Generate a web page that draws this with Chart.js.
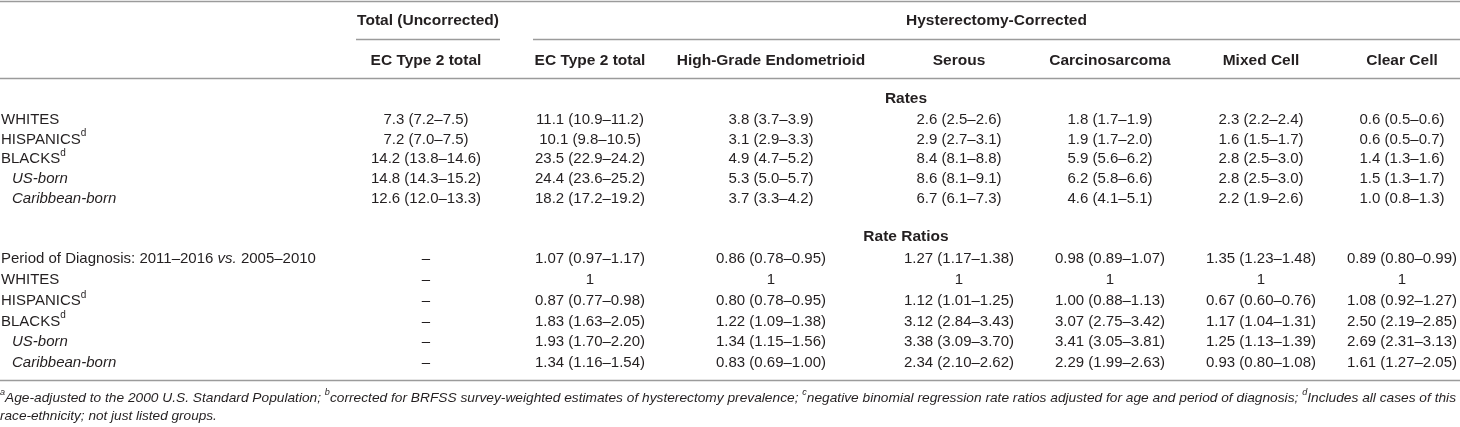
<!DOCTYPE html>
<html>
<head>
<meta charset="utf-8">
<script src="https://cdn.jsdelivr.net/npm/chart.js@4.4.1/dist/chart.umd.min.js"></script>
<style>
  html, body { margin: 0; padding: 0; background: #fff; }
  #wrap { width: 1460px; height: 427px; }
</style>
</head>
<body>
<div id="wrap"><canvas id="tableChart" width="1460" height="427"></canvas></div>
<script>
//DATA

// "^d" = superscript, "*vs.*" = italic
var groupLabels = ["Total (Uncorrected)", "Hysterectomy-Corrected"];
var columnLabels = ["EC Type 2 total", "EC Type 2 total", "High-Grade Endometrioid", "Serous", "Carcinosarcoma", "Mixed Cell", "Clear Cell"];
var sectionLabels = ["Rates", "Rate Ratios"];

var rateRowLabels = ["WHITES", "HISPANICS^d", "BLACKS^d", "US-born", "Caribbean-born"];
var ratioRowLabels = ["Period of Diagnosis: 2011–2016 *vs.* 2005–2010", "WHITES", "HISPANICS^d", "BLACKS^d", "US-born", "Caribbean-born"];
var subRows = ["US-born", "Caribbean-born"];

var rateWhites    = ["7.3 (7.2–7.5)", "11.1 (10.9–11.2)", "3.8 (3.7–3.9)", "2.6 (2.5–2.6)", "1.8 (1.7–1.9)", "2.3 (2.2–2.4)", "0.6 (0.5–0.6)"];
var rateHispanics = ["7.2 (7.0–7.5)", "10.1 (9.8–10.5)", "3.1 (2.9–3.3)", "2.9 (2.7–3.1)", "1.9 (1.7–2.0)", "1.6 (1.5–1.7)", "0.6 (0.5–0.7)"];
var rateBlacks    = ["14.2 (13.8–14.6)", "23.5 (22.9–24.2)", "4.9 (4.7–5.2)", "8.4 (8.1–8.8)", "5.9 (5.6–6.2)", "2.8 (2.5–3.0)", "1.4 (1.3–1.6)"];
var rateUsBorn    = ["14.8 (14.3–15.2)", "24.4 (23.6–25.2)", "5.3 (5.0–5.7)", "8.6 (8.1–9.1)", "6.2 (5.8–6.6)", "2.8 (2.5–3.0)", "1.5 (1.3–1.7)"];
var rateCarib     = ["12.6 (12.0–13.3)", "18.2 (17.2–19.2)", "3.7 (3.3–4.2)", "6.7 (6.1–7.3)", "4.6 (4.1–5.1)", "2.2 (1.9–2.6)", "1.0 (0.8–1.3)"];

var rrPeriod      = ["–", "1.07 (0.97–1.17)", "0.86 (0.78–0.95)", "1.27 (1.17–1.38)", "0.98 (0.89–1.07)", "1.35 (1.23–1.48)", "0.89 (0.80–0.99)"];
var rrWhites      = ["–", "1", "1", "1", "1", "1", "1"];
var rrHispanics   = ["–", "0.87 (0.77–0.98)", "0.80 (0.78–0.95)", "1.12 (1.01–1.25)", "1.00 (0.88–1.13)", "0.67 (0.60–0.76)", "1.08 (0.92–1.27)"];
var rrBlacks      = ["–", "1.83 (1.63–2.05)", "1.22 (1.09–1.38)", "3.12 (2.84–3.43)", "3.07 (2.75–3.42)", "1.17 (1.04–1.31)", "2.50 (2.19–2.85)"];
var rrUsBorn      = ["–", "1.93 (1.70–2.20)", "1.34 (1.15–1.56)", "3.38 (3.09–3.70)", "3.41 (3.05–3.81)", "1.25 (1.13–1.39)", "2.69 (2.31–3.13)"];
var rrCarib       = ["–", "1.34 (1.16–1.54)", "0.83 (0.69–1.00)", "2.34 (2.10–2.62)", "2.29 (1.99–2.63)", "0.93 (0.80–1.08)", "1.61 (1.27–2.05)"];

var footnoteLines = [
  "^aAge-adjusted to the 2000 U.S. Standard Population; ^bcorrected for BRFSS survey-weighted estimates of hysterectomy prevalence; ^cnegative binomial regression rate ratios adjusted for age and period of diagnosis; ^dIncludes all cases of this",
  "race-ethnicity; not just listed groups."
];

//LAYOUT (pixels)
var W = 1460, H = 427;
var colCenter = [426, 590, 771, 959, 1110, 1261, 1402];
var groupSpan = [[356, 500], [533, 1460]];
var sectionX = 906;
var sectionY = [99, 237];
var rateTop = 119.5, rateStep = 19.9;
var ratioTop = 259, ratioStep = 20.8;
var header1Y = 21, header2Y = 61;
var ruleTop = 1, ruleGroup = 39, ruleHead = 78, ruleBottom = 380;
var footY = [398, 416];

var textColor = "#231f20";
var ruleColor = "#9b9b9b";
var FONT = "'Liberation Sans', Arial, sans-serif";
var bodySize = 15, headSize = 15.5, footSize = 13.6;

var rateCells = [rateWhites, rateHispanics, rateBlacks, rateUsBorn, rateCarib];
var ratioCells = [rrPeriod, rrWhites, rrHispanics, rrBlacks, rrUsBorn, rrCarib];

// one scatter point per cell; text is painted at the element position
var cellPoints = [];
function addRow(label, cells, y) {
  var sub = subRows.indexOf(label) >= 0;
  cellPoints.push({ x: sub ? 12 : 1, y: y, text: label, kind: "label", italic: sub });
  cells.forEach(function (c, i) {
    cellPoints.push({ x: colCenter[i], y: y, text: c, kind: "cell" });
  });
}
rateRowLabels.forEach(function (lab, r) { addRow(lab, rateCells[r], rateTop + r * rateStep); });
ratioRowLabels.forEach(function (lab, r) { addRow(lab, ratioCells[r], ratioTop + r * ratioStep); });
sectionLabels.forEach(function (s, i) {
  cellPoints.push({ x: sectionX, y: sectionY[i], text: s, kind: "head" });
});
columnLabels.forEach(function (c, i) {
  cellPoints.push({ x: colCenter[i], y: header2Y, text: c, kind: "head" });
});
groupLabels.forEach(function (g, i) {
  cellPoints.push({ x: (groupSpan[i][0] + groupSpan[i][1]) / 2, y: header1Y, text: g, kind: "head" });
});
footnoteLines.forEach(function (f, i) {
  cellPoints.push({ x: 0, y: footY[i], text: f, kind: "foot" });
});

// split "abc ^d *vs.*" into styled pieces
function parseRich(str) {
  var parts = [];
  var re = /\^(.)|\*([^*]+)\*/g, last = 0, m;
  while ((m = re.exec(str)) !== null) {
    if (m.index > last) parts.push({ t: str.slice(last, m.index) });
    if (m[1]) parts.push({ t: m[1], sup: true });
    else parts.push({ t: m[2], italic: true });
    last = re.lastIndex;
  }
  if (last < str.length) parts.push({ t: str.slice(last) });
  return parts;
}

function fontFor(size, bold, italic) {
  return (italic ? "italic " : "") + (bold ? "bold " : "") + size + "px " + FONT;
}

function drawRich(ctx, str, x, y, opt) {
  var parts = parseRich(str);
  var size = opt.size, supSize = Math.round(size * 0.68);
  var total = 0;
  parts.forEach(function (p) {
    ctx.font = fontFor(p.sup ? supSize : size, opt.bold, opt.italic || p.italic);
    p.w = ctx.measureText(p.t).width;
    total += p.w;
  });
  var sx = opt.fitWidth ? opt.fitWidth / total : 1;
  var cx = opt.align === "center" ? x - total * sx / 2 : x;
  ctx.save();
  ctx.translate(cx, y);
  ctx.scale(sx, 1);
  var px = 0;
  parts.forEach(function (p) {
    ctx.font = fontFor(p.sup ? supSize : size, opt.bold, opt.italic || p.italic);
    ctx.fillText(p.t, px, p.sup ? -size * 0.38 : 0);
    px += p.w;
  });
  ctx.restore();
}

var tablePlugin = {
  id: "tablePlugin",
  afterDatasetsDraw: function (chart) {
    var ctx = chart.ctx;
    var xs = chart.scales.x, ys = chart.scales.y;
    ctx.save();

    // rules
    ctx.strokeStyle = ruleColor;
    ctx.lineWidth = 1.4;
    function hline(y, x0, x1) {
      var py = Math.round(ys.getPixelForValue(y)) + 0.5;
      ctx.beginPath();
      ctx.moveTo(xs.getPixelForValue(x0), py);
      ctx.lineTo(xs.getPixelForValue(x1), py);
      ctx.stroke();
    }
    hline(ruleTop, 0, W);
    groupSpan.forEach(function (s) { hline(ruleGroup, s[0], s[1]); });
    hline(ruleHead, 0, W);
    hline(ruleBottom, 0, W);

    // text
    ctx.fillStyle = textColor;
    ctx.textBaseline = "middle";
    var pts = chart.data.datasets[0].data;
    chart.getDatasetMeta(0).data.forEach(function (el, i) {
      var d = pts[i];
      if (d.kind === "head") {
        drawRich(ctx, d.text, el.x, el.y, { size: headSize, bold: true, align: "center" });
      } else if (d.kind === "label") {
        drawRich(ctx, d.text, el.x, el.y, { size: bodySize, italic: d.italic, align: "left" });
      } else if (d.kind === "foot") {
        drawRich(ctx, d.text, el.x, el.y, { size: footSize, italic: true, align: "left", fitWidth: d.text === footnoteLines[0] ? 1456 : 0 });
      } else {
        drawRich(ctx, d.text, el.x, el.y, { size: bodySize, align: "center" });
      }
    });
    ctx.restore();
  }
};

var ctx = document.getElementById("tableChart").getContext("2d");
var tableChart = new Chart(ctx, {
  type: "scatter",
  data: {
    datasets: [{
      data: cellPoints,
      pointRadius: 0,
      pointHoverRadius: 0
    }]
  },
  options: {
    responsive: false,
    animation: false,
    layout: { padding: 0 },
    events: [],
    plugins: { legend: { display: false }, tooltip: { enabled: false } },
    scales: {
      x: { type: "linear", min: 0, max: W, display: false },
      y: { type: "linear", min: 0, max: H, reverse: true, display: false }
    }
  },
  plugins: [tablePlugin]
});
</script>
</body>
</html>
